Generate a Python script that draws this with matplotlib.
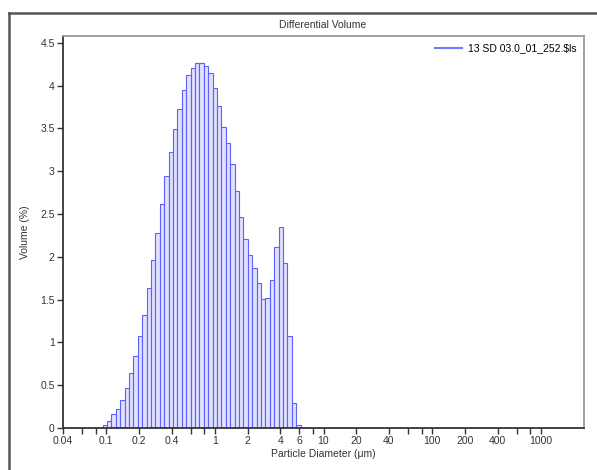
import matplotlib as mpl
import matplotlib.pyplot as plt
from matplotlib.lines import Line2D
from matplotlib.ticker import FixedLocator, NullFormatter
import numpy as np

mpl.rc('font', family=['Liberation Sans Narrow', 'Liberation Sans', 'DejaVu Sans'])

#------------------------------------------------------------------------------
# channel edges (um) of the analyser, lower edge of each bar + last upper edge
edges = [0.0926, 0.1017, 0.1116, 0.1225, 0.1345, 0.1476, 0.1621, 0.1779,
         0.1953, 0.2144, 0.2353, 0.2583, 0.2836, 0.3113, 0.3417, 0.3751,
         0.4118, 0.4520, 0.4962, 0.5447, 0.5979, 0.6564, 0.7205, 0.7909,
         0.8688, 0.9537, 1.047, 1.149, 1.261, 1.385, 1.520, 1.669, 1.832,
         2.011, 2.208, 2.424, 2.661, 2.921, 3.206, 3.520, 3.864, 4.242,
         4.657, 5.112, 5.612, 6.161]

# differential volume (%) per channel
volume = [0.04, 0.08, 0.16, 0.22, 0.33, 0.47, 0.64, 0.84, 1.07, 1.32, 1.64,
          1.96, 2.28, 2.62, 2.94, 3.23, 3.49, 3.73, 3.95, 4.12, 4.21, 4.27,
          4.27, 4.23, 4.15, 3.97, 3.76, 3.52, 3.33, 3.08, 2.77, 2.46, 2.21,
          2.02, 1.87, 1.69, 1.51, 1.52, 1.73, 2.11, 2.35, 1.93, 1.08, 0.29,
          0.04]

xticks_major = [0.04, 0.1, 0.2, 0.4, 1, 2, 4, 6, 10, 20, 40, 100, 200, 400, 1000]
xtick_labels = ['0.04', '0.1', '0.2', '0.4', '1', '2', '4', '6', '10', '20',
                '40', '100', '200', '400', '1000']
xticks_minor = [0.06, 0.08, 0.6, 0.8, 8, 60, 80, 600, 800]
yticks = [0, 0.5, 1, 1.5, 2, 2.5, 3, 3.5, 4, 4.5]
ytick_labels = ['0', '0.5', '1', '1.5', '2', '2.5', '3', '3.5', '4', '4.5']

sample_name = '13 SD 03.0_01_252.$ls'

#------------------------------------------------------------------------------
fig = plt.figure(figsize=(5.97, 4.70), dpi=100)
ax = fig.add_axes([63/597, 42/470, 521/597, 392/470])

widths = np.diff(edges)
ax.bar(edges[:-1], volume, width=widths, align='edge',
       color='#e0e0ff', edgecolor='#6060ff', linewidth=0.8)

ax.set_xscale('log')
ax.set_xlim(0.04, 2500)
ax.set_ylim(0, 4.58)

ax.xaxis.set_major_locator(FixedLocator(xticks_major))
ax.set_xticklabels(xtick_labels)
ax.xaxis.set_minor_locator(FixedLocator(xticks_minor))
ax.xaxis.set_minor_formatter(NullFormatter())
ax.set_yticks(yticks)
ax.set_yticklabels(ytick_labels)

ax.tick_params(axis='both', which='both', direction='out', length=4,
               width=1, colors='#333333', labelsize=7.5, pad=2)

for s in ['left', 'bottom']:
    ax.spines[s].set_color('#333333')
    ax.spines[s].set_linewidth(1.3)
for s in ['top', 'right']:
    ax.spines[s].set_color('#999999')
    ax.spines[s].set_linewidth(1.3)

ax.set_xlabel('Particle Diameter (\u03bcm)', fontsize=7.5, color='#333333', labelpad=2)
ax.set_ylabel('Volume (%)', fontsize=7.5, color='#333333', labelpad=7)
fig.text(323/597, 1 - 25/470, 'Differential Volume', ha='center', va='center',
         fontsize=7.5, color='#333333')

ax.legend(handles=[Line2D([], [], color='#7777ff', lw=1.5)], labels=[sample_name],
          loc='upper right', frameon=False, fontsize=7.5, handlelength=2.6,
          borderaxespad=0.3, handletextpad=0.6)

# outer chart frame (only top and left edges are inside the picture)
fig.add_artist(Line2D([9/597, 1], [1 - 13/470, 1 - 13/470], color='#555555', lw=1.8,
                      transform=fig.transFigure))
fig.add_artist(Line2D([9/597, 9/597], [0, 1 - 13/470], color='#555555', lw=1.8,
                      transform=fig.transFigure))

fig.savefig('out.png', dpi=100)
